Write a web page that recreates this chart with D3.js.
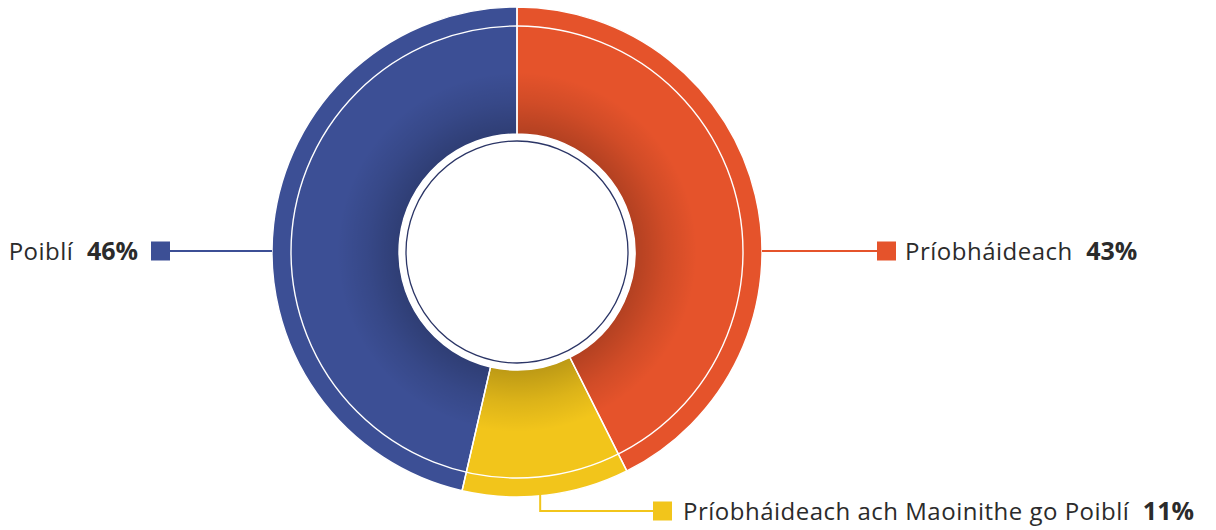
<!DOCTYPE html>
<html>
<head>
<meta charset="utf-8">
<script src="https://cdn.jsdelivr.net/npm/d3@7"></script>
<style>
  body { margin: 0; background: #fff; }
  text { font-family: "Open Sans", sans-serif; fill: #2b2b2b; }
</style>
</head>
<body>
<svg width="1216" height="530"></svg>
<script>
// slices, clockwise from 12 o'clock
const categories = ['Príobháideach', 'Príobháideach ach Maoinithe go Poiblí', 'Poiblí'];
const values = [42.6, 11.0, 46.4];
const colors = ['#e5532b', '#f2c51b', '#3c4f95'];

const data = categories.map((c, i) => ({ name: c, value: values[i], color: colors[i] }));

const svg = d3.select('svg');
const cx = 517, cy = 252;
const outerR = 245, innerR = 118;

const pie = d3.pie().sort(null).value((d) => d.value);
const arcs = pie(data);

const arc = d3.arc().innerRadius(innerR).outerRadius(outerR);

const defs = svg.append('defs');
const grad = defs.append('radialGradient')
  .attr('id', 'shade')
  .attr('gradientUnits', 'userSpaceOnUse')
  .attr('cx', 0).attr('cy', 0).attr('r', outerR);
grad.append('stop').attr('offset', innerR / outerR).attr('stop-color', '#000').attr('stop-opacity', 0.22);
grad.append('stop').attr('offset', 150 / outerR).attr('stop-color', '#000').attr('stop-opacity', 0.09);
grad.append('stop').attr('offset', 180 / outerR).attr('stop-color', '#000').attr('stop-opacity', 0);

const g = svg.append('g').attr('transform', `translate(${cx}, ${cy})`);

g.selectAll('path.slice')
  .data(arcs)
  .enter()
  .append('path')
  .attr('class', 'slice')
  .attr('d', arc)
  .attr('fill', (d) => d.data.color);

// inner shadow
g.append('path')
  .attr('d', d3.arc().innerRadius(innerR).outerRadius(outerR).startAngle(0).endAngle(2 * Math.PI)())
  .attr('fill', 'url(#shade)');

// separators
g.selectAll('path.sep')
  .data(arcs)
  .enter()
  .append('path')
  .attr('class', 'sep')
  .attr('d', arc)
  .attr('fill', 'none')
  .attr('stroke', '#fff')
  .attr('stroke-width', 1.4);

// thin white ring near outer edge
g.append('circle')
  .attr('r', 226)
  .attr('fill', 'none')
  .attr('stroke', '#fff')
  .attr('stroke-width', 1.4);

// centre disc
g.append('circle').attr('r', innerR).attr('fill', '#fff');
g.append('circle')
  .attr('r', 111)
  .attr('fill', 'none')
  .attr('stroke', '#2b3566')
  .attr('stroke-width', 1.3);

// leader lines and labels
const sq = 19;
const labelFont = 24;

function addLabel(x, y, anchorLeft, d) {
  const t = svg.append('text')
    .attr('y', y + 9)
    .style('font-size', labelFont + 'px')
    .style('letter-spacing', '0.5px');
  t.append('tspan').text(d.data.name + '\u00a0\u00a0');
  t.append('tspan')
    .style('font-weight', 700)
    .style('font-size', '25px')
    .style('letter-spacing', '0px')
    .text(Math.round(d.data.value) + '%');
  if (anchorLeft) {
    t.attr('x', x).attr('text-anchor', 'start');
  } else {
    t.attr('x', x).attr('text-anchor', 'end');
  }
}

// orange, right side
{
  const d = arcs[0];
  const y = cy - 1;
  svg.append('line')
    .attr('x1', cx + outerR).attr('x2', 877)
    .attr('y1', y).attr('y2', y)
    .attr('stroke', d.data.color).attr('stroke-width', 2);
  svg.append('rect')
    .attr('x', 877).attr('y', y - sq / 2).attr('width', sq).attr('height', sq)
    .attr('fill', d.data.color);
  addLabel(905, y, true, d);
}

// yellow, bottom
{
  const d = arcs[1];
  const mid = (d.startAngle + d.endAngle) / 2;
  const x = cx + outerR * Math.sin(mid) - 6;
  const y0 = cy + Math.sqrt(outerR * outerR - (x - cx) * (x - cx));
  const y = 511;
  svg.append('path')
    .attr('d', `M${x},${y0 - 2}V${y}H653`)
    .attr('fill', 'none')
    .attr('stroke', d.data.color).attr('stroke-width', 2);
  svg.append('rect')
    .attr('x', 653).attr('y', y - sq / 2).attr('width', sq).attr('height', sq)
    .attr('fill', d.data.color);
  addLabel(683, y, true, d);
}

// blue, left side
{
  const d = arcs[2];
  const y = cy - 1;
  svg.append('line')
    .attr('x1', 170).attr('x2', cx - outerR)
    .attr('y1', y).attr('y2', y)
    .attr('stroke', d.data.color).attr('stroke-width', 2);
  svg.append('rect')
    .attr('x', 151).attr('y', y - sq / 2).attr('width', sq).attr('height', sq)
    .attr('fill', d.data.color);
  addLabel(138, y, false, d);
}
</script>
</body>
</html>
